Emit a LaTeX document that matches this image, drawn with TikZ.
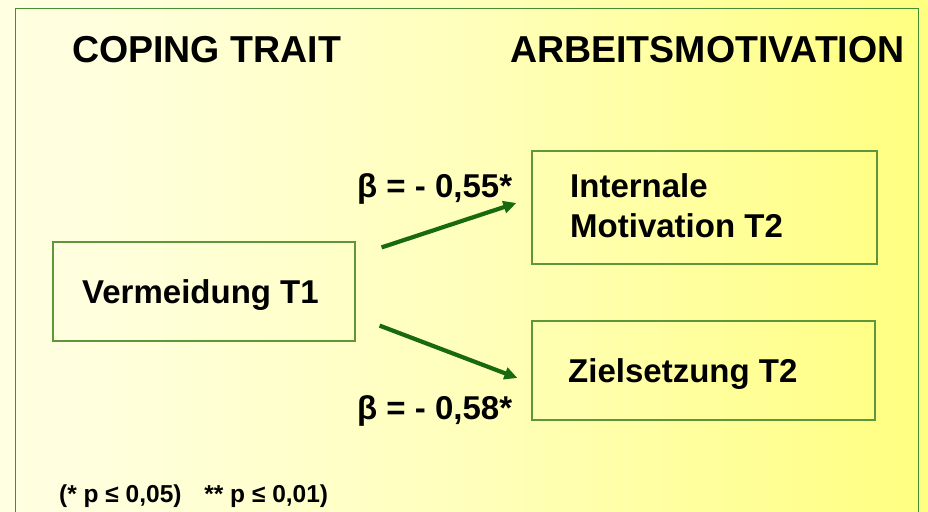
\documentclass[tikz,border=0pt]{standalone}
\usepackage{fontspec}
\setmainfont{Liberation Sans}
\usetikzlibrary{arrows.meta}

\definecolor{rahmen}{RGB}{70,140,50}
\definecolor{boxrand}{RGB}{95,150,60}
\definecolor{pfeilgruen}{RGB}{25,105,15}
\definecolor{hgA}{RGB}{252,252,242}
\definecolor{hgB}{RGB}{255,255,222}
\definecolor{hgC}{RGB}{255,255,188}
\definecolor{hgD}{RGB}{255,255,152}
\definecolor{hgE}{RGB}{255,255,104}
\definecolor{hgF}{RGB}{255,255,66}
\pgfdeclarehorizontalshading{hintergrund}{100bp}{color(0bp)=(hgA); color(30bp)=(hgB); color(50bp)=(hgC); color(65bp)=(hgD); color(85bp)=(hgE); color(100bp)=(hgF)}

\begin{document}
\begin{tikzpicture}[x=1pt,y=-1pt]
	\tikzstyle{box}=[draw=boxrand, line width=1.2pt, inner sep=0pt]
	\tikzstyle{kopf}=[font=\fontsize{37.5}{40}\selectfont\bfseries, anchor=base west, inner sep=0pt]
	\tikzstyle{txt}=[font=\fontsize{33}{40}\selectfont\bfseries, anchor=base west, inner sep=0pt]
	\tikzstyle{fuss}=[font=\fontsize{24.5}{28}\selectfont\bfseries, anchor=base west, inner sep=0pt]
	\tikzstyle{pfeil}=[-{Triangle[length=13pt,width=12pt]}, line width=4.2pt, draw=pfeilgruen]

	\shade[shading=hintergrund] (0,0) rectangle (928,511);
	\useasboundingbox (0,0) rectangle (928,511);
	\draw[rahmen, line width=1pt] (15,520) -- (15,9) -- (918,9) -- (918,520);

	% Ueberschriften
	\node[kopf] (coping) at (72,63) {COPING TRAIT};
	\node[kopf] (arbeit) at (510,63) {ARBEITSMOTIVATION};

	% Kaesten
	\node[box, minimum width=302pt, minimum height=99pt] (verm) at (204,291.5) {};
	\node[box, minimum width=345pt, minimum height=113pt] (intern) at (704.5,207.5) {};
	\node[box, minimum width=343pt, minimum height=99pt] (ziel) at (703.5,370.5) {};

	\node[txt] (vermtxt) at (82,303) {Vermeidung T1};
	\node[txt] (interntxt) at (570,197) {Internale};
	\node[txt] (motivtxt) at (570,237) {Motivation T2};
	\node[txt] (zieltxt) at (568,382) {Zielsetzung T2};

	% Pfeile
	\coordinate (a1s) at ([xshift=26pt,yshift=-6pt]verm.north east);
	\coordinate (a1e) at ([xshift=-15pt,yshift=4.5pt]intern.west);
	\coordinate (a2s) at ([xshift=24pt,yshift=16pt]verm.south east);
	\coordinate (a2e) at ([xshift=-14pt,yshift=-7.5pt]ziel.west);
	\draw[pfeil] (a1s) -- (a1e);
	\draw[pfeil] (a2s) -- (a2e);

	\node[txt] (beta1) at (357,197) {β = - 0,55*};
	\node[txt] (beta2) at (357,419) {β = - 0,58*};

	\node[fuss] (fuss) at (59,502) {(* p ≤ 0,05)\hspace{16pt} ** p ≤ 0,01)};
\end{tikzpicture}
\end{document}
